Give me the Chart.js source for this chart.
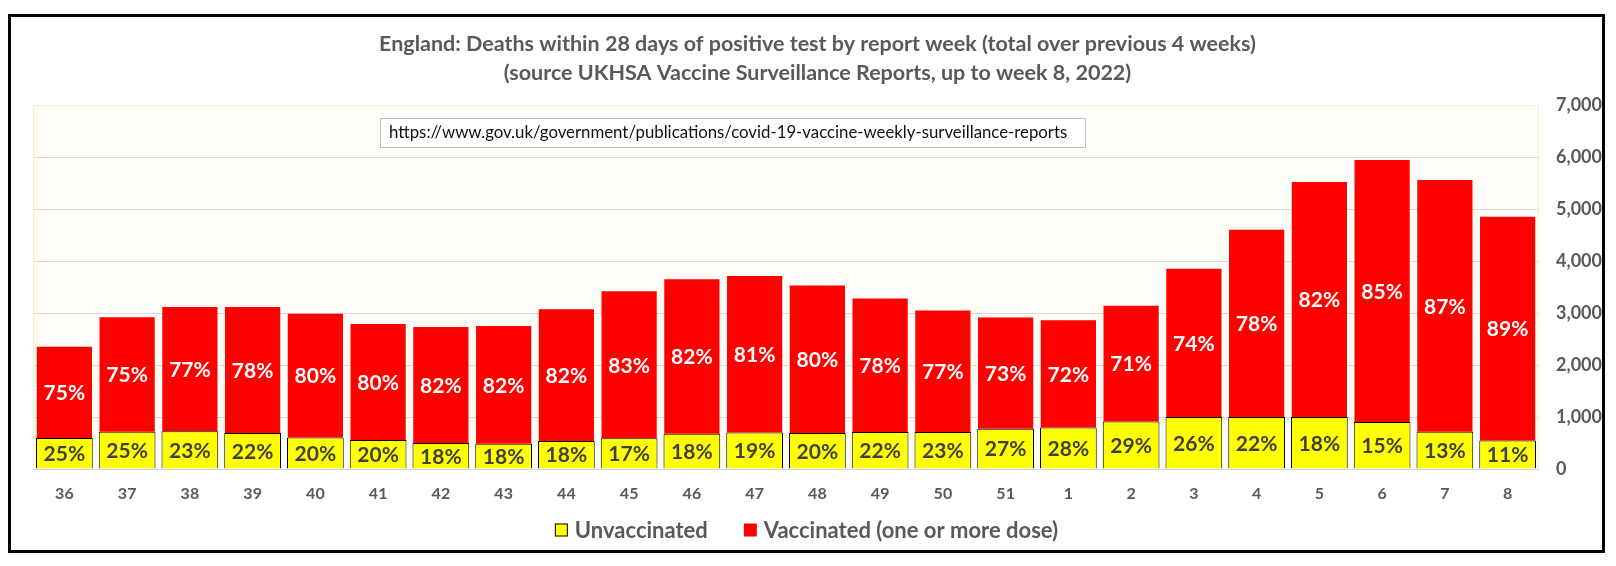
<!DOCTYPE html>
<html>
<head>
<meta charset="utf-8">
<script src="https://cdn.jsdelivr.net/npm/chart.js@4.4.1/dist/chart.umd.min.js"></script>
<style>
  html, body { margin: 0; padding: 0; background: #fff; }
  #frame {
    position: absolute; left: 8px; top: 14px;
    width: 1591px; height: 533px;
    border: 3px solid #000; background: #fff;
  }
</style>
</head>
<body>
<div id="frame"><canvas id="chart"></canvas></div>
<script>
const weeks = ["36", "37", "38", "39", "40", "41", "42", "43", "44", "45", "46", "47",
  "48", "49", "50", "51", "1", "2", "3", "4", "5", "6", "7", "8"];

// deaths
const unvaccinated = [595, 715, 725, 690, 605, 560, 500, 485, 540, 590, 680, 700,
  690, 710, 710, 775, 800, 915, 1000, 1000, 1000, 905, 715, 550];
const vaccinated = [1755, 2205, 2390, 2425, 2380, 2230, 2230, 2265, 2530, 2830, 2970, 3010,
  2840, 2570, 2340, 2140, 2060, 2225, 2850, 3600, 4520, 5035, 4845, 4300];

// percentage labels printed on the bars
const unvaccinatedPct = [25, 25, 23, 22, 20, 20, 18, 18, 18, 17, 18, 19,
  20, 22, 23, 27, 28, 29, 26, 22, 18, 15, 13, 11];
const vaccinatedPct = [75, 75, 77, 78, 80, 80, 82, 82, 82, 83, 82, 81,
  80, 78, 77, 73, 72, 71, 74, 78, 82, 85, 87, 89];

const titleLines = [
  "England: Deaths within 28 days of positive test by report week (total over previous 4 weeks)",
  "(source UKHSA Vaccine Surveillance Reports, up to week 8, 2022)"
];
const sourceUrl = "https://www.gov.uk/government/publications/covid-19-vaccine-weekly-surveillance-reports";

Chart.defaults.font.family = "Lato";

const grey = "#595959";

const plotBackground = {
  id: "plotBackground",
  beforeDraw(chart) {
    const { ctx, chartArea: a } = chart;
    ctx.save();
    ctx.fillStyle = "#FFFDF7";
    ctx.fillRect(a.left, a.top, a.right - a.left, a.bottom - a.top);
    ctx.restore();
  },
  beforeDatasetsDraw(chart) {
    const { ctx, chartArea: a } = chart;
    ctx.save();
    ctx.strokeStyle = "#FCEFC8";
    ctx.lineWidth = 1;
    ctx.beginPath();
    ctx.moveTo(a.left + 0.5, a.bottom);
    ctx.lineTo(a.left + 0.5, a.top + 0.5);
    ctx.lineTo(a.right - 0.5, a.top + 0.5);
    ctx.lineTo(a.right - 0.5, a.bottom);
    ctx.stroke();
    ctx.restore();
  }
};

const barLabels = {
  id: "barLabels",
  afterDatasetsDraw(chart) {
    const { ctx } = chart;
    const texts = [unvaccinatedPct, vaccinatedPct];
    const colours = ["#404040", "#FFFFFF"];
    ctx.save();
    ctx.font = "bold 21px Lato";
    ctx.textAlign = "center";
    ctx.textBaseline = "middle";
    chart.data.datasets.forEach((ds, di) => {
      const meta = chart.getDatasetMeta(di);
      ctx.fillStyle = colours[di];
      meta.data.forEach((bar, i) => {
        const { x, y, base } = bar.getProps(["x", "y", "base"], true);
        ctx.fillText(texts[di][i] + "%", x, (y + base) / 2 + 1);
      });
    });
    ctx.restore();
  }
};

const urlBox = {
  id: "urlBox",
  afterDraw(chart) {
    const { ctx, chartArea: a } = chart;
    const x = a.left + 347, y = a.top + 13, w = 706, h = 30;
    ctx.save();
    ctx.fillStyle = "#FFFFFF";
    ctx.fillRect(x, y, w, h);
    ctx.strokeStyle = "#BFBFBF";
    ctx.lineWidth = 1;
    ctx.strokeRect(x + 0.5, y + 0.5, w - 1, h - 1);
    ctx.fillStyle = "#111111";
    ctx.font = "16.8px Lato";
    ctx.textAlign = "left";
    ctx.textBaseline = "middle";
    ctx.fillText(sourceUrl, x + 9, y + h / 2);
    ctx.restore();
  }
};

// legend drawn by hand so the item gap can differ from the vertical spacing
const bottomLegend = {
  id: "bottomLegend",
  afterDraw(chart) {
    const { ctx, width } = chart;
    const y = 513, box = 13, gap = 7, itemGap = 36;
    ctx.save();
    ctx.font = "bold 22px Lato";
    const items = chart.data.datasets.map(ds => ({
      text: ds.label, fill: ds.backgroundColor, stroke: ds.borderWidth ? ds.borderColor : null,
      w: ctx.measureText(ds.label).width
    }));
    const total = items.reduce((s, it) => s + box + gap + it.w, 0) + itemGap * (items.length - 1);
    let x = width / 2 - total / 2;
    ctx.textAlign = "left";
    ctx.textBaseline = "middle";
    items.forEach(it => {
      ctx.fillStyle = it.fill;
      ctx.fillRect(x, y - box / 2, box, box);
      if (it.stroke) {
        ctx.strokeStyle = it.stroke;
        ctx.lineWidth = 1;
        ctx.strokeRect(x + 0.5, y - box / 2 + 0.5, box - 1, box - 1);
      }
      ctx.fillStyle = grey;
      ctx.fillText(it.text, x + box + gap, y + 1);
      x += box + gap + it.w + itemGap;
    });
    ctx.restore();
  }
};

new Chart(document.getElementById("chart"), {
  type: "bar",
  data: {
    labels: weeks,
    datasets: [
      {
        label: "Unvaccinated",
        data: unvaccinated,
        backgroundColor: "#FFFF00",
        borderColor: "#000000",
        borderWidth: 1,
        barPercentage: 0.904,
        categoryPercentage: 1
      },
      {
        label: "Vaccinated (one or more dose)",
        data: vaccinated,
        backgroundColor: "#FF0000",
        borderColor: "#FF0000",
        borderWidth: 0,
        barPercentage: 0.88,
        categoryPercentage: 1
      }
    ]
  },
  options: {
    responsive: true,
    maintainAspectRatio: false,
    animation: false,
    layout: { padding: { left: 22, right: 0, top: 0, bottom: 0 } },
    plugins: {
      title: {
        display: true,
        text: titleLines,
        color: grey,
        font: { size: 21.5, weight: "bold", lineHeight: 29 / 21.5 },
        padding: { top: 13, bottom: 17 }
      },
      legend: { display: false },
      tooltip: { enabled: false }
    },
    scales: {
      x: {
        stacked: true,
        grid: { display: false },
        border: { display: false },
        ticks: { color: grey, font: { size: 16, weight: "bold" }, padding: 7, maxRotation: 0 },
        afterFit: s => { s.height = 81; }
      },
      y: {
        stacked: true,
        position: "right",
        min: 0,
        max: 7000,
        border: { display: false },
        grid: {
          drawTicks: false,
          color: c => (c.tick && c.tick.value === 7000 ? "rgba(0,0,0,0)" : "#D9D9D9")
        },
        ticks: {
          stepSize: 1000,
          padding: 17,
          color: grey,
          font: { size: 18, weight: "bold" },
          callback: v => v.toLocaleString("en-US")
        },
        afterFit: s => { s.width = 63; }
      }
    }
  },
  plugins: [plotBackground, barLabels, urlBox, bottomLegend]
});
</script>
</body>
</html>
